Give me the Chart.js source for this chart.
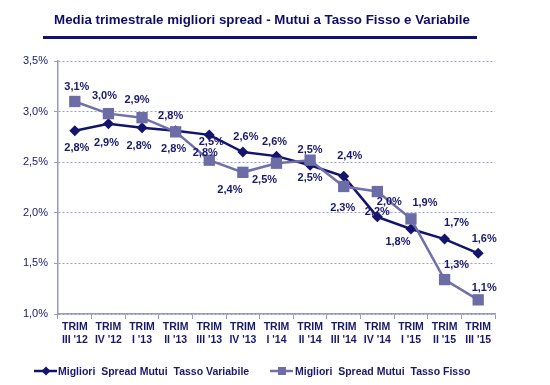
<!DOCTYPE html>
<html lang="it">
<head>
    <meta charset="UTF-8">
    <title>Media trimestrale migliori spread</title>
    <script src="https://cdn.jsdelivr.net/npm/chart.js"></script>
    <style>
        html, body { margin: 0; padding: 0; background: #fff; }
        #wrap { width: 550px; height: 385px; position: relative; }
    </style>
</head>
<body>
    <div id="wrap"><canvas id="spreadChart"></canvas></div>

    <script>
        // dati
        const trimestri = [
            ['TRIM', "III '12"], ['TRIM', "IV '12"], ['TRIM', "I '13"], ['TRIM', "II '13"],
            ['TRIM', "III '13"], ['TRIM', "IV '13"], ['TRIM', "I '14"], ['TRIM', "II '14"],
            ['TRIM', "III '14"], ['TRIM', "IV '14"], ['TRIM', "I '15"], ['TRIM', "II '15"],
            ['TRIM', "III '15"]
        ];
        const spreadVariabile = [2.81, 2.88, 2.84, 2.81, 2.77, 2.60, 2.56, 2.47, 2.36, 1.96, 1.84, 1.74, 1.60];
        const spreadFisso     = [3.10, 2.98, 2.94, 2.80, 2.52, 2.40, 2.49, 2.52, 2.26, 2.21, 1.94, 1.34, 1.14];
        const yTicks = [1.0, 1.5, 2.0, 2.5, 3.0, 3.5];

        const labelVariabile = 'Migliori  Spread Mutui  Tasso Variabile';
        const labelFisso = 'Migliori  Spread Mutui  Tasso Fisso';

        // spostamento delle etichette rispetto al punto [dx, dy]
        const offVariabile = [[2,17],[-2,19],[-3,18],[-2,18],[-4,18],[3,-15],[-2,-14],[0,13],[6,-20],[12,-15],[-13,13],[12,-16],[6,-14]];
        const offFisso     = [[2,-15],[-4,-18],[-5,-18],[-5,-16],[2,-18],[-13,18],[-12,17],[0,-10],[-1,21],[0,20],[14,-16],[12,-15],[6,-12]];

        const NAVY = '#14146c';
        const GREY = '#7070aa';
        const TXT = '#18186e';
        const FONT = '"Liberation Sans", Arial, sans-serif';

        const fmt = v => v.toFixed(1).replace('.', ',') + '%';

        const extras = {
            id: 'extras',
            afterDatasetsDraw(chart) {
                const ctx = chart.ctx;
                ctx.save();
                ctx.font = 'bold 11px ' + FONT;
                ctx.fillStyle = TXT;
                ctx.textAlign = 'center';
                ctx.textBaseline = 'middle';
                const sets = [[0, offVariabile], [1, offFisso]];
                sets.forEach(([di, offs]) => {
                    const meta = chart.getDatasetMeta(di);
                    const vals = chart.data.datasets[di].data;
                    meta.data.forEach((pt, i) => {
                        ctx.fillText(fmt(vals[i]), pt.x + offs[i][0], pt.y + offs[i][1]);
                    });
                });
                ctx.restore();
            },
            afterDraw(chart) {
                const ctx = chart.ctx;
                ctx.save();
                // titolo
                ctx.font = 'bold 13.3px ' + FONT;
                ctx.fillStyle = '#0e0e68';
                ctx.textAlign = 'center';
                ctx.textBaseline = 'middle';
                ctx.fillText('Media trimestrale migliori spread - Mutui a Tasso Fisso e Variabile', 262, 20);
                ctx.fillStyle = '#12126a';
                ctx.fillRect(43, 36, 434, 3);

                // legenda
                const ly = 371;
                ctx.font = 'bold 10.5px ' + FONT;
                ctx.textAlign = 'left';
                ctx.lineWidth = 2.5;
                ctx.strokeStyle = NAVY;
                ctx.beginPath(); ctx.moveTo(34, ly); ctx.lineTo(57, ly); ctx.stroke();
                ctx.fillStyle = NAVY;
                ctx.beginPath();
                ctx.moveTo(46 - 4.5, ly); ctx.lineTo(46, ly - 4.5); ctx.lineTo(46 + 4.5, ly); ctx.lineTo(46, ly + 4.5);
                ctx.closePath(); ctx.fill();
                ctx.fillStyle = TXT;
                ctx.fillText(labelVariabile, 58, ly + 1);

                ctx.strokeStyle = GREY;
                ctx.beginPath(); ctx.moveTo(270, ly); ctx.lineTo(293, ly); ctx.stroke();
                ctx.fillStyle = '#6c6ca6';
                ctx.fillRect(278, ly - 4, 8, 8);
                ctx.fillStyle = TXT;
                ctx.fillText(labelFisso, 295, ly + 1);
                ctx.restore();
            }
        };

        const ctx = document.getElementById('spreadChart').getContext('2d');
        const chart = new Chart(ctx, {
            type: 'line',
            data: {
                labels: trimestri,
                datasets: [{
                    label: labelVariabile,
                    data: spreadVariabile,
                    borderColor: NAVY,
                    backgroundColor: NAVY,
                    borderWidth: 2.5,
                    pointStyle: 'rectRot',
                    pointRadius: 5.5,
                    pointBorderWidth: 0,
                    pointBackgroundColor: NAVY,
                    tension: 0,
                    order: 1
                }, {
                    label: labelFisso,
                    data: spreadFisso,
                    borderColor: GREY,
                    backgroundColor: '#6c6ca6',
                    borderWidth: 2.5,
                    pointStyle: 'rect',
                    pointRadius: 8,
                    pointBorderWidth: 0,
                    pointBackgroundColor: '#6c6ca6',
                    tension: 0,
                    order: 0
                }]
            },
            options: {
                responsive: true,
                maintainAspectRatio: false,
                animation: false,
                layout: { padding: { left: 0, right: 55, top: 61, bottom: 31 } },
                plugins: {
                    legend: { display: false },
                    title: { display: false },
                    tooltip: { enabled: false }
                },
                scales: {
                    x: {
                        offset: true,
                        grid: {
                            display: true,
                            drawOnChartArea: false,
                            drawTicks: true,
                            tickLength: 5,
                            offset: true,
                            tickColor: '#9898c0'
                        },
                        border: { color: '#9898c0', width: 1.5 },
                        ticks: {
                            color: TXT,
                            font: { family: FONT, size: 10.5, weight: 'bold', lineHeight: 1.3 },
                            padding: 1,
                            maxRotation: 0,
                            autoSkip: false
                        },
                        afterFit(scale) { scale.height = 40; }
                    },
                    y: {
                        min: yTicks[0],
                        max: yTicks[yTicks.length - 1],
                        afterBuildTicks(scale) { scale.ticks = yTicks.map(v => ({ value: v })); },
                        grid: {
                            color: '#9a9ad8',
                            lineWidth: 1,
                            tickLength: 4,
                            tickColor: '#9898c0',
                            tickBorderDash: []
                        },
                        border: { color: '#9898c0', width: 1.5, dash: [2, 2] },
                        ticks: {
                            color: TXT,
                            font: { family: FONT, size: 11 },
                            padding: 6,
                            callback: v => fmt(v)
                        },
                        afterFit(scale) { scale.width = 58; }
                    }
                }
            },
            plugins: [extras]
        });
    </script>
</body>
</html>
